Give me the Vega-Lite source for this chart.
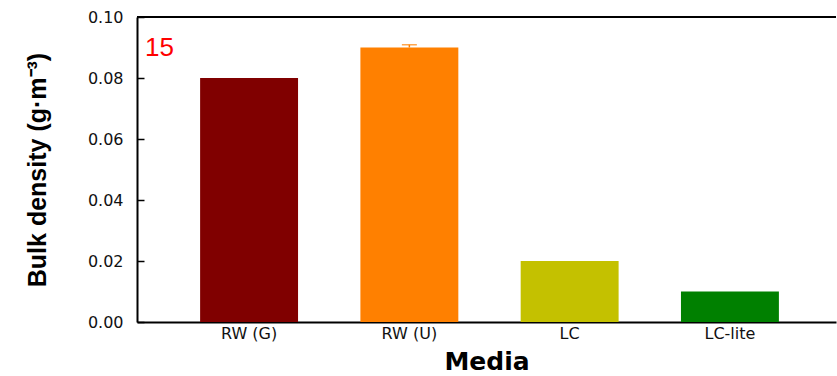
{
  "$schema": "https://vega.github.io/schema/vega-lite/v6.json",
  "autosize": "none",
  "width": 699,
  "height": 305,
  "padding": {"left": 137, "top": 17, "right": 1, "bottom": 54},
  "background": "white",
  "config": {
    "view": {"stroke": null},
    "font": "Liberation Sans"
  },
  "title": {
    "text": "15",
    "anchor": "start",
    "frame": "group",
    "orient": "top",
    "offset": -52,
    "dx": 8,
    "color": "red",
    "fontSize": 26,
    "fontWeight": "normal",
    "font": "Liberation Sans"
  },
  "data": {
    "values": [
      {"media": "RW (G)", "density": 0.080, "upper": null},
      {"media": "RW (U)", "density": 0.090, "upper": 0.0909},
      {"media": "LC", "density": 0.020, "upper": null},
      {"media": "LC-lite", "density": 0.010, "upper": null}
    ]
  },
  "encoding": {
    "x": {
      "field": "media",
      "type": "nominal",
      "sort": ["RW (G)", "RW (U)", "LC", "LC-lite"],
      "scale": {"paddingInner": 0.389, "paddingOuter": 0.375, "align": 0.525},
      "axis": {
        "title": "Media",
        "labelAngle": 0,
        "ticks": false,
        "domainColor": "black",
        "domainWidth": 2,
        "labelFont": "DejaVu Sans",
        "labelFontSize": 16,
        "labelColor": "#111",
        "labelPadding": 3,
        "titleFont": "DejaVu Sans",
        "titleFontSize": 25,
        "titleFontWeight": "bold",
        "titleColor": "black",
        "titleBaseline": "alphabetic",
        "titleY": 47
      }
    }
  },
  "layer": [
    {
      "mark": {"type": "bar"},
      "encoding": {
        "y": {
          "field": "density",
          "type": "quantitative",
          "scale": {"domain": [0, 0.1], "nice": false},
          "axis": {
            "title": "Bulk density (g·m⁻³)",
            "values": [0, 0.02, 0.04, 0.06, 0.08, 0.1],
            "format": ".2f",
            "grid": false,
            "tickSize": -7,
            "tickColor": "black",
            "tickWidth": 1.5,
            "domainColor": "black",
            "domainWidth": 2,
            "labelFont": "DejaVu Sans",
            "labelFontSize": 16,
            "labelColor": "#111",
            "labelPadding": 21,
            "titleFont": "Liberation Sans",
            "titleFontSize": 25,
            "titleFontWeight": "bold",
            "titleColor": "black",
            "titleBaseline": "middle",
            "titleX": -100
          }
        },
        "color": {
          "field": "media",
          "type": "nominal",
          "scale": {
            "domain": ["RW (G)", "RW (U)", "LC", "LC-lite"],
            "range": ["#800000", "#ff8000", "#c4c100", "#008000"]
          },
          "legend": null
        }
      }
    },
    {
      "transform": [{"filter": "datum.upper != null"}],
      "mark": {"type": "rule", "color": "#ff8000", "strokeWidth": 1.5},
      "encoding": {
        "y": {"field": "density", "type": "quantitative"},
        "y2": {"field": "upper"}
      }
    },
    {
      "transform": [{"filter": "datum.upper != null"}],
      "mark": {"type": "tick", "color": "#ff8000", "thickness": 1.5, "size": 15, "orient": "horizontal"},
      "encoding": {
        "y": {"field": "upper", "type": "quantitative"}
      }
    },
    {
      "mark": {"type": "rule", "color": "black", "strokeWidth": 2},
      "encoding": {
        "x": null,
        "y": {"datum": 0.1, "type": "quantitative"}
      }
    }
  ]
}
